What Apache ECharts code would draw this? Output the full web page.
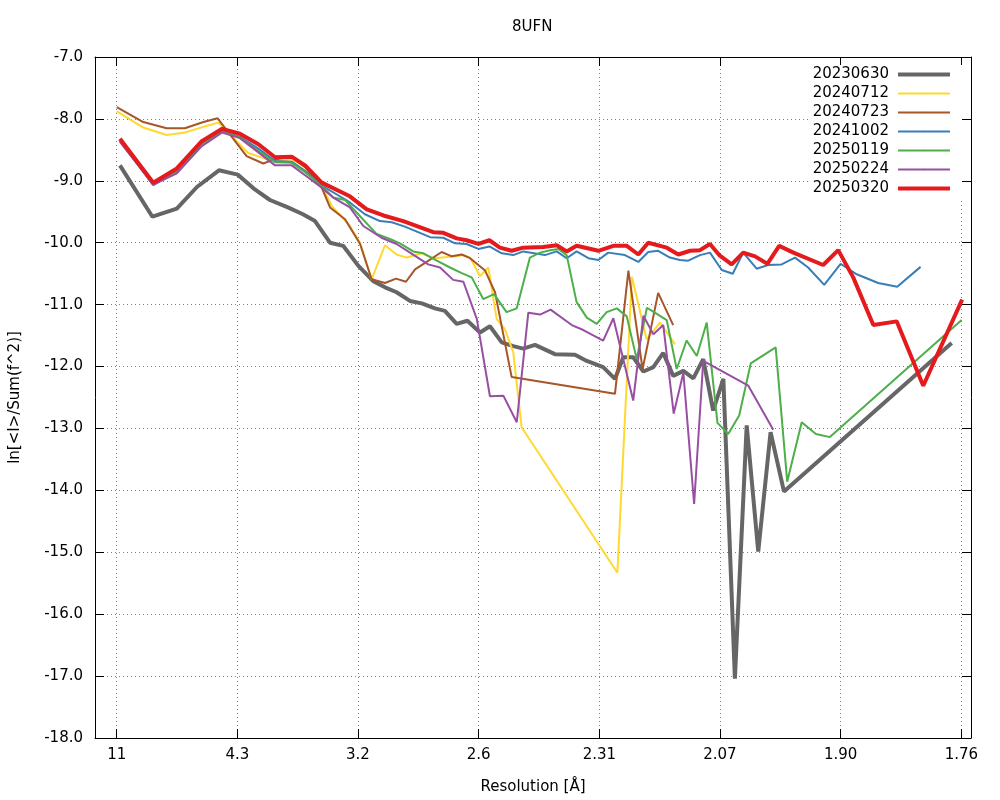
<!DOCTYPE html>
<html>
<head>
<meta charset="utf-8">
<script src="https://cdn.jsdelivr.net/npm/echarts@6/dist/echarts.min.js"></script>
<style>html,body{margin:0;padding:0;background:#fff}#c{width:1000px;height:800px}</style>
</head>
<body>
<div id="c"></div>
<script>
// x values are 1/d^2 (Å^-2); y values are ln[<I>/Sum(f^2)]
const tickValues = [0.0081, 0.0531, 0.0980, 0.1430, 0.1880, 0.2329, 0.2779, 0.3229];
const tickLabels = ['11', '4.3', '3.2', '2.6', '2.31', '2.07', '1.90', '1.76'];
const seriesNames = ['20230630', '20240712', '20240723', '20241002', '20250119', '20250224', '20250320'];

const x20230630 = [.0093,.0214,.0305,.0380,.0462,.0532,.0596,.0652,.0719,.0775,.0820,.0876,.0925,.0981,.1037,.1081,.1124,.1174,.1218,.1267,.1304,.1348,.1388,.1435,.1472,.1516,.1559,.1596,.1640,.1714,.1789,.1833,.1894,.1938,.1969,.2006,.2044,.2081,.2118,.2155,.2193,.2230,.2267,.2304,.2342,.2385,.2429,.2472,.2518,.2568,.3193];
const y20230630 = [-8.75,-9.58,-9.45,-9.10,-8.83,-8.90,-9.14,-9.31,-9.43,-9.54,-9.65,-10.00,-10.05,-10.37,-10.62,-10.72,-10.80,-10.94,-10.98,-11.06,-11.10,-11.31,-11.26,-11.45,-11.35,-11.61,-11.67,-11.71,-11.65,-11.80,-11.81,-11.91,-12.01,-12.20,-11.85,-11.85,-12.08,-12.01,-11.78,-12.15,-12.07,-12.19,-11.88,-12.71,-12.20,-17.04,-12.95,-14.99,-13.06,-14.02,-11.62];

const x20240712 = [.0081,.0180,.0267,.0335,.0410,.0460,.0571,.0640,.0690,.0733,.0783,.0839,.0883,.0950,.0988,.1031,.1081,.1124,.1162,.1218,.1261,.1348,.1373,.1398,.1435,.1466,.1497,.1528,.1559,.1590,.1947,.2001,.2056,.2106,.2162];
const y20240712 = [-7.88,-8.14,-8.26,-8.22,-8.12,-8.06,-8.55,-8.65,-8.68,-8.65,-8.78,-9.03,-9.41,-9.73,-10.00,-10.59,-10.04,-10.19,-10.24,-10.17,-10.25,-10.22,-10.20,-10.24,-10.54,-10.40,-11.23,-11.40,-11.77,-12.98,-15.33,-10.55,-11.56,-11.29,-11.64];

const x20240723 = [.0081,.0180,.0267,.0335,.0404,.0457,.0565,.0627,.0671,.0733,.0783,.0845,.0876,.0932,.0988,.1031,.1081,.1122,.1159,.1193,.1236,.1292,.1330,.1367,.1398,.1454,.1491,.1553,.1938,.1988,.2041,.2099,.2155];
const y20240723 = [-7.81,-8.05,-8.15,-8.15,-8.05,-7.99,-8.60,-8.72,-8.65,-8.62,-8.78,-9.11,-9.43,-9.62,-10.02,-10.59,-10.65,-10.58,-10.63,-10.43,-10.31,-10.15,-10.22,-10.19,-10.25,-10.45,-10.80,-12.17,-12.44,-10.45,-12.04,-10.81,-11.33];

const x20241002 = [.0093,.0217,.0305,.0398,.0474,.0540,.0609,.0671,.0733,.0783,.0839,.0944,.1006,.1062,.1106,.1155,.1249,.1298,.1342,.1385,.1429,.1470,.1516,.1559,.1596,.1677,.1721,.1758,.1795,.1839,.1876,.1913,.1975,.2025,.2062,.2099,.2143,.2180,.2211,.2255,.2292,.2336,.2377,.2416,.2466,.2509,.2559,.2609,.2658,.2718,.2779,.2839,.2919,.2990,.3077];
const y20241002 = [-8.35,-9.07,-8.85,-8.40,-8.19,-8.29,-8.48,-8.68,-8.69,-8.84,-9.06,-9.33,-9.54,-9.65,-9.67,-9.74,-9.91,-9.92,-10.01,-10.02,-10.10,-10.06,-10.17,-10.20,-10.14,-10.20,-10.14,-10.25,-10.14,-10.25,-10.28,-10.16,-10.20,-10.31,-10.15,-10.13,-10.24,-10.28,-10.29,-10.20,-10.16,-10.44,-10.50,-10.16,-10.42,-10.36,-10.35,-10.24,-10.40,-10.68,-10.34,-10.51,-10.65,-10.71,-10.39];

const x20250119 = [.0093,.0217,.0305,.0398,.0474,.0540,.0609,.0671,.0733,.0783,.0839,.0888,.0932,.0981,.1050,.1099,.1137,.1186,.1224,.1274,.1323,.1367,.1404,.1447,.1487,.1534,.1572,.1621,.1659,.1696,.1727,.1758,.1795,.1833,.1870,.1907,.1945,.1982,.2019,.2057,.2094,.2131,.2168,.2205,.2243,.2280,.2320,.2360,.2401,.2444,.2537,.2580,.2634,.2687,.2739,.3230];
const y20250119 = [-8.35,-9.06,-8.85,-8.41,-8.19,-8.30,-8.52,-8.70,-8.71,-8.86,-9.06,-9.27,-9.31,-9.54,-9.86,-9.94,-10.01,-10.14,-10.17,-10.29,-10.40,-10.49,-10.56,-10.91,-10.83,-11.12,-11.06,-10.24,-10.16,-10.12,-10.10,-10.20,-10.96,-11.21,-11.31,-11.12,-11.06,-11.19,-11.88,-11.05,-11.15,-11.25,-12.04,-11.58,-11.83,-11.29,-12.91,-13.09,-12.79,-11.95,-11.69,-13.86,-12.90,-13.09,-13.14,-11.25];

const x20250224 = [.0093,.0217,.0305,.0398,.0474,.0540,.0609,.0671,.0733,.0783,.0839,.0888,.0950,.1000,.1068,.1124,.1174,.1242,.1286,.1335,.1373,.1423,.1472,.1522,.1572,.1615,.1659,.1698,.1777,.1820,.1894,.1932,.2006,.2044,.2081,.2118,.2157,.2193,.2233,.2267,.2435,.2528];
const y20250224 = [-8.37,-9.06,-8.88,-8.44,-8.22,-8.31,-8.54,-8.75,-8.75,-8.91,-9.09,-9.27,-9.43,-9.73,-9.92,-10.02,-10.16,-10.35,-10.40,-10.60,-10.63,-11.23,-12.48,-12.47,-12.90,-11.13,-11.16,-11.08,-11.33,-11.41,-11.58,-11.22,-12.55,-11.18,-11.48,-11.33,-12.76,-12.10,-14.22,-11.91,-12.31,-13.02];

const x20250320 = [.0093,.0217,.0305,.0398,.0474,.0540,.0609,.0671,.0733,.0783,.0845,.0950,.1013,.1075,.1149,.1261,.1298,.1348,.1385,.1429,.1470,.1509,.1553,.1596,.1671,.1721,.1758,.1795,.1876,.1932,.1982,.2025,.2062,.2131,.2174,.2218,.2255,.2292,.2329,.2373,.2416,.2460,.2506,.2550,.2603,.2714,.2770,.2826,.2901,.2988,.3087,.3232];
const y20250320 = [-8.32,-9.03,-8.80,-8.36,-8.16,-8.24,-8.41,-8.62,-8.61,-8.75,-9.03,-9.25,-9.46,-9.56,-9.65,-9.83,-9.84,-9.93,-9.96,-10.02,-9.96,-10.08,-10.13,-10.08,-10.07,-10.04,-10.14,-10.05,-10.13,-10.05,-10.05,-10.19,-10.00,-10.08,-10.19,-10.13,-10.12,-10.02,-10.21,-10.35,-10.16,-10.22,-10.34,-10.05,-10.16,-10.36,-10.12,-10.56,-11.33,-11.27,-12.31,-10.92];

const xs = [x20230630, x20240712, x20240723, x20241002, x20250119, x20250224, x20250320];
const ys = [y20230630, y20240712, y20240723, y20241002, y20250119, y20250224, y20250320];
const colors = ['#666666', '#ffd92f', '#a65628', '#377eb8', '#4daf4a', '#984ea3', '#e41a1c'];
const widths = [4, 2, 2, 2, 2, 2, 4];

const FONT = 'DejaVu Sans';
const gridLine = { show: true, lineStyle: { color: '#808080', type: [1, 3], width: 1 } };

const series = seriesNames.map((name, i) => ({
  name: name,
  type: 'line',
  xAxisIndex: 0, yAxisIndex: 0,
  data: xs[i].map((x, k) => [x, ys[i][k]]),
  symbol: 'none',
  showSymbol: false,
  lineStyle: { color: colors[i], width: widths[i] },
  itemStyle: { color: colors[i] },
  emphasis: { disabled: true },
  animation: false
}));

const chart = echarts.init(document.getElementById('c'), null, { renderer: 'canvas' });
chart.setOption({
  animation: false,
  backgroundColor: '#ffffff',
  title: {
    text: '8UFN', left: 512, top: 20, padding: 0,
    textStyle: { fontFamily: FONT, fontSize: 15, fontWeight: 'normal', color: '#000' }
  },
  grid: { left: 95, right: 29, top: 57, bottom: 61, containLabel: false },
  legend: {
    orient: 'vertical', right: 38, top: 65, align: 'right',
    backgroundColor: '#ffffff', padding: [0, 10, 0, 2],
    itemWidth: 52, itemHeight: 2, itemGap: 0,
    lineStyle: { width: 'inherit' },
    textStyle: { fontFamily: FONT, fontSize: 15, color: '#000', lineHeight: 19, padding: [0, 4, 0, 0] },
    data: seriesNames
  },
  xAxis: [{
    type: 'value', min: 0, max: 0.3265, position: 'bottom',
    name: 'Resolution [Å]', nameLocation: 'middle', nameGap: 42,
    nameTextStyle: { fontFamily: FONT, fontSize: 15, color: '#000' },
    axisLine: { show: true, onZero: false, lineStyle: { color: '#000', width: 1 } },
    axisTick: { show: true, inside: true, length: 9, customValues: tickValues, lineStyle: { color: '#000' } },
    axisLabel: {
      customValues: tickValues, margin: 10,
      fontFamily: FONT, fontSize: 15, color: '#000',
      formatter: v => { const i = tickValues.findIndex(t => Math.abs(t - v) < 1e-6); return i >= 0 ? tickLabels[i] : ''; }
    },
    splitLine: gridLine
  }, {
    type: 'value', min: 0, max: 0.3265, position: 'top',
    axisLine: { show: true, onZero: false, lineStyle: { color: '#000', width: 1 } },
    axisTick: { show: true, inside: true, length: 9, customValues: tickValues, lineStyle: { color: '#000' } },
    axisLabel: { show: false },
    splitLine: { show: false }
  }],
  yAxis: [{
    type: 'value', min: -18, max: -7, interval: 1, position: 'left',
    name: 'ln[<I>/Sum(f^2)]', nameLocation: 'middle', nameGap: 72,
    nameTextStyle: { fontFamily: FONT, fontSize: 15, color: '#000' },
    axisLine: { show: true, onZero: false, lineStyle: { color: '#000', width: 1 } },
    axisTick: { show: true, inside: true, length: 9, lineStyle: { color: '#000' } },
    axisLabel: { margin: 12, fontFamily: FONT, fontSize: 15, color: '#000', formatter: v => v.toFixed(1) },
    splitLine: gridLine
  }, {
    type: 'value', min: -18, max: -7, interval: 1, position: 'right',
    axisLine: { show: true, onZero: false, lineStyle: { color: '#000', width: 1 } },
    axisTick: { show: true, inside: true, length: 9, lineStyle: { color: '#000' } },
    axisLabel: { show: false },
    splitLine: { show: false }
  }],
  series: series
});
</script>
</body>
</html>
